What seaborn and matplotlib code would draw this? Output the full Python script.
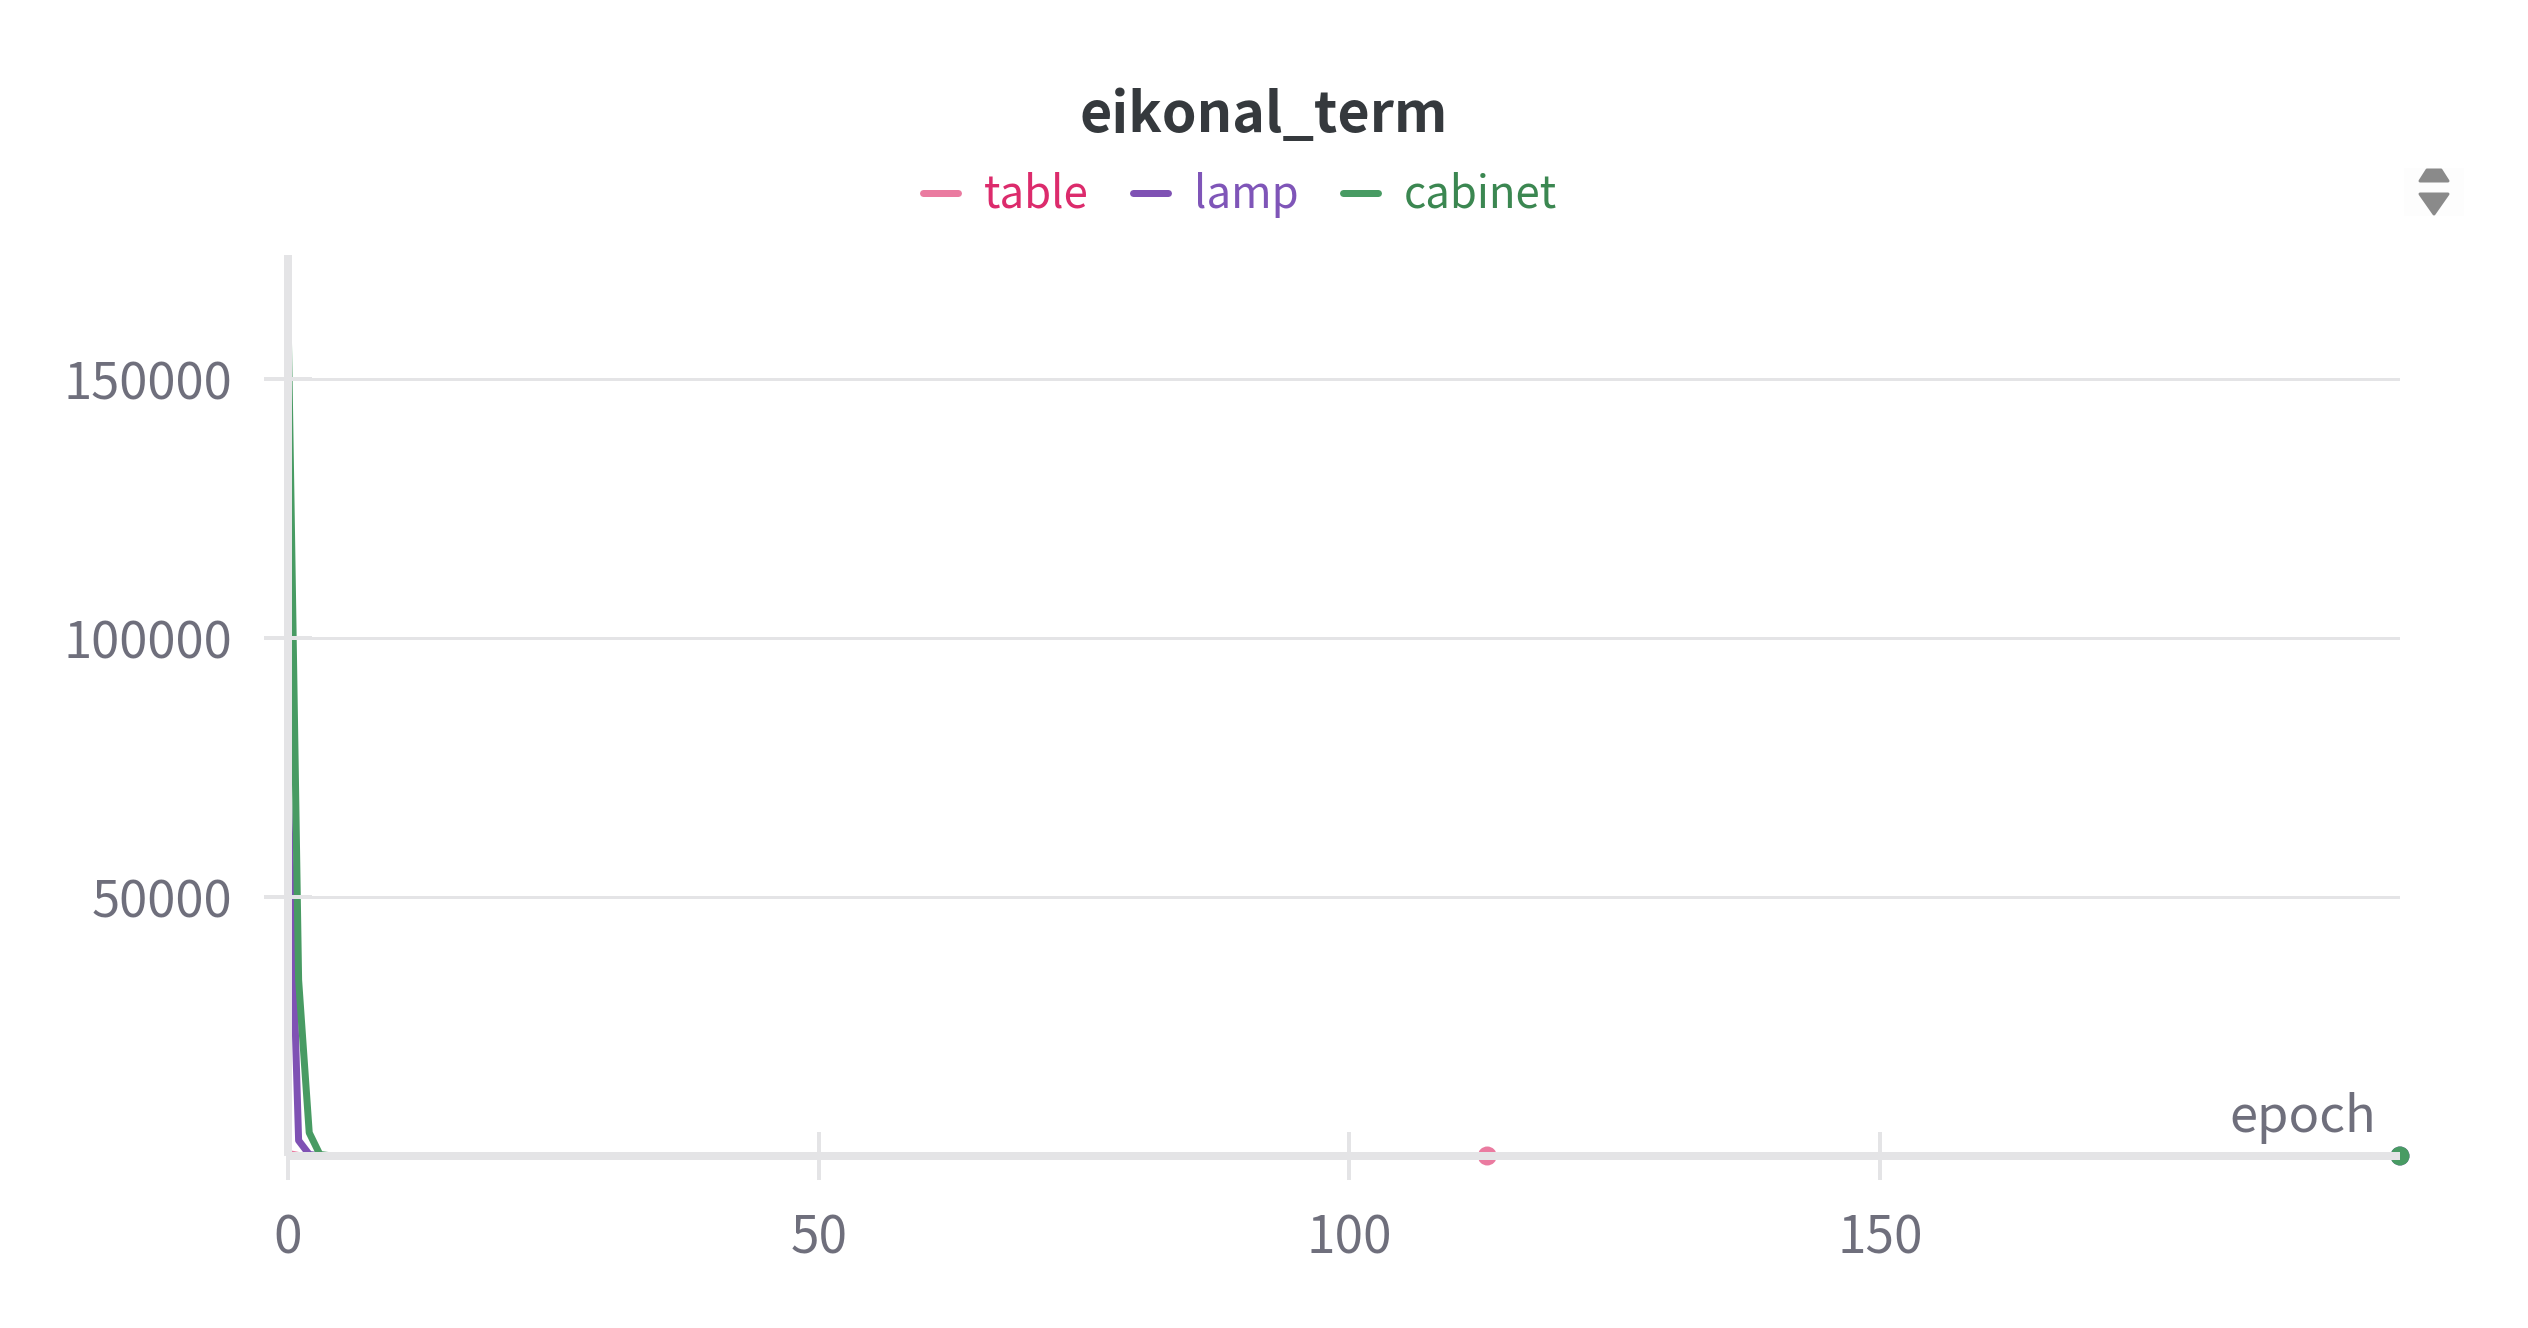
import matplotlib
matplotlib.use('Agg')
import matplotlib.pyplot as plt
import matplotlib.patches as patches
import pandas as pd
import seaborn as sns

# values, runs stay flat near zero after the first epochs
run_names = ['table', 'lamp', 'cabinet']
table_epochs = [0, 1, 2, 113]
table_values = [500, 100, 30, 2]
lamp_epochs = [0, 1, 2, 3, 199]
lamp_values = [72000, 3000, 300, 40, 1]
cabinet_epochs = [0, 1, 2, 3, 4, 199]
cabinet_values = [163000, 34000, 4500, 300, 40, 1]

line_colors = ['#ea7ba0', '#7f52b4', '#489b63']
text_colors = ['#dc2b6c', '#7f55b8', '#3b8751']
axis_color = '#e4e4e6'
label_color = '#6f6f7c'

x_ticks = [0, 50, 100, 150]
y_ticks = [50000, 100000, 150000]

W, H = 2528, 1328
px = 72 / 100  # pixels to points at dpi 100

runs = []
runs += [('table', e, v) for e, v in zip(table_epochs, table_values)]
runs += [('lamp', e, v) for e, v in zip(lamp_epochs, lamp_values)]
runs += [('cabinet', e, v) for e, v in zip(cabinet_epochs, cabinet_values)]
df = pd.DataFrame(runs, columns=['run', 'epoch', 'value'])

sns.set_theme(style='white')
plt.rcParams['font.family'] = ['Noto Sans CJK JP', 'DejaVu Sans']

fig = plt.figure(figsize=(W / 100, H / 100), dpi=100)
ax = fig.add_axes([288 / W, 1 - 1156 / H, 2112 / W, 901 / H])

sns.lineplot(data=df, x='epoch', y='value', hue='run', hue_order=run_names,
             palette=line_colors, estimator=None, sort=False,
             linewidth=7 * px, zorder=2, ax=ax)

# dot at the last point of every run
last = df.groupby('run', sort=False).tail(1)
sns.scatterplot(data=last, x='epoch', y='value', hue='run', hue_order=run_names,
                palette=line_colors, s=(19 * px) ** 2, linewidth=0,
                clip_on=False, zorder=2, legend=False, ax=ax)

ax.set_xlim(0, 199)
ax.set_ylim(0, 174000)
ax.set_xticks(x_ticks)
ax.set_yticks(y_ticks)
ax.set_xlabel('')
ax.set_ylabel('')
ax.set_axisbelow(False)
ax.yaxis.grid(True, color=axis_color, linewidth=3 * px)
ax.tick_params(axis='x', bottom=True, direction='inout', length=48 * px, width=4 * px,
               color=axis_color, labelcolor=label_color, labelsize=37, pad=32 * px)
ax.tick_params(axis='y', left=True, direction='inout', length=48 * px, width=4 * px,
               color=axis_color, labelcolor=label_color, labelsize=36.5, pad=32 * px)
for side in ['top', 'right']:
    ax.spines[side].set_visible(False)
for side in ['left', 'bottom']:
    ax.spines[side].set_color(axis_color)
    ax.spines[side].set_linewidth(8 * px)
    ax.spines[side].set_capstyle('butt')

fig.text(2376 / W, 1 - 1132 / H, 'epoch', ha='right', va='baseline',
         color=label_color, fontsize=36.5)
fig.text(1264 / W, 1 - 116 / H, 'eikonal_term', ha='center', va='center',
         color='#35393d', fontsize=40, fontweight='bold')

handles, labels = ax.get_legend_handles_labels()
ax.get_legend().remove()
leg = fig.legend(handles, labels, ncols=3, loc='center',
                 bbox_to_anchor=(1240 / W, 1 - 195 / H), frameon=False,
                 fontsize=31.5, labelcolor=text_colors, handlelength=0.8,
                 handletextpad=0.6, columnspacing=1.0)
for h in leg.legend_handles:
    h.set_linewidth(7 * px)
    h.set_solid_capstyle('round')

# sort toggle in the top right corner
to_fig = fig.transFigure
def pix(x, y):
    return (x / W, 1 - y / H)
fig.patches.append(patches.Rectangle(pix(2404, 216), 60 / W, 48 / H, transform=to_fig,
                                     facecolor='#fdfdfd', edgecolor='none'))
for shape in ([(2427, 170), (2441, 170), (2448, 181), (2420, 181)],
              [(2420, 194), (2448, 194), (2434, 214)]):
    fig.patches.append(patches.Polygon([pix(*p) for p in shape], closed=True,
                                       transform=to_fig, facecolor='#8a8a8a',
                                       edgecolor='#8a8a8a', linewidth=3 * px,
                                       joinstyle='round'))

fig.savefig('out.png', dpi=100, facecolor='white')
